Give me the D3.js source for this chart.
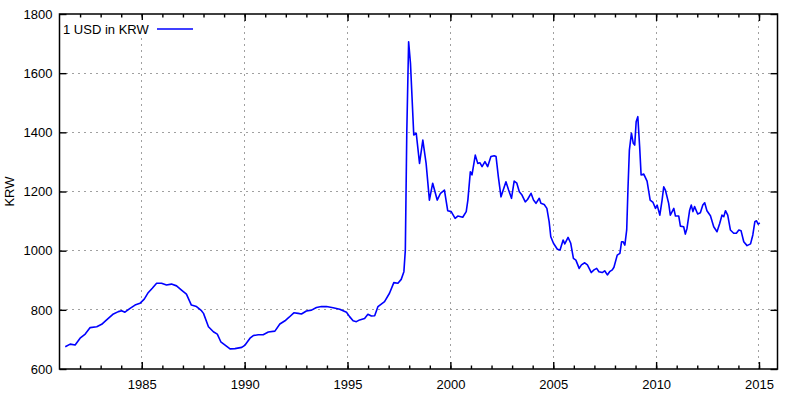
<!DOCTYPE html>
<html>
<head>
<meta charset="utf-8">
<script src="https://cdn.jsdelivr.net/npm/d3@7"></script>
<style>
body { margin: 0; background: #fff; }
text { font-family: "Liberation Sans", Arial, sans-serif; }
</style>
</head>
<body>
<script>
// monthly-ish readings of the USD/KRW rate
var years = [
  1981.28,1981.52,1981.76,1982.0,1982.25,1982.49,1982.81,1983.05,1983.29,1983.62,
  1983.86,1984.02,1984.18,1984.43,1984.67,1984.91,1985.12,1985.31,1985.51,1985.72,
  1985.96,1986.2,1986.44,1986.69,1986.93,1987.17,1987.41,1987.66,1987.9,1988.0,
  1988.24,1988.48,1988.67,1988.84,1989.05,1989.29,1989.53,1989.86,1990.02,1990.26,
  1990.42,1990.66,1990.9,1991.15,1991.47,1991.71,1991.96,1992.16,1992.39,1992.6,
  1992.76,1993.0,1993.25,1993.49,1993.73,1993.98,1994.3,1994.62,1994.95,1995.1,
  1995.27,1995.43,1995.59,1995.83,1995.99,1996.16,1996.32,1996.48,1996.8,1997.04,
  1997.25,1997.45,1997.61,1997.74,1997.81,1997.88,1997.97,1998.06,1998.22,1998.34,
  1998.5,1998.66,1998.82,1998.98,1999.14,1999.36,1999.52,1999.71,1999.87,2000.04,
  2000.23,2000.36,2000.6,2000.77,2000.85,2000.97,2001.05,2001.21,2001.33,2001.44,
  2001.54,2001.68,2001.81,2001.97,2002.13,2002.22,2002.33,2002.46,2002.7,2002.83,
  2002.97,2003.1,2003.23,2003.35,2003.48,2003.64,2003.75,2003.92,2004.04,2004.16,
  2004.32,2004.4,2004.56,2004.69,2004.8,2004.88,2005.01,2005.2,2005.33,2005.48,
  2005.56,2005.72,2005.85,2005.98,2006.1,2006.26,2006.37,2006.53,2006.66,2006.85,
  2006.98,2007.11,2007.22,2007.38,2007.5,2007.63,2007.74,2007.87,2007.95,2008.11,
  2008.24,2008.32,2008.4,2008.48,2008.57,2008.63,2008.7,2008.8,2008.89,2008.96,
  2009.03,2009.11,2009.2,2009.27,2009.4,2009.56,2009.71,2009.85,2009.97,2010.05,
  2010.18,2010.29,2010.37,2010.45,2010.61,2010.69,2010.86,2010.94,2011.1,2011.18,
  2011.34,2011.42,2011.5,2011.63,2011.71,2011.79,2011.87,2012.02,2012.15,2012.27,
  2012.36,2012.47,2012.64,2012.8,2012.96,2013.09,2013.2,2013.29,2013.37,2013.48,
  2013.61,2013.77,2013.9,2014.02,2014.13,2014.26,2014.42,2014.59,2014.7,2014.8,
  2014.88,2014.96,2015.04
];
var krw = [
  675,684,681,704,718,740,743,751,766,786,
  794,797,792,805,816,822,836,858,873,890,
  890,884,887,881,867,853,816,811,797,788,
  743,726,718,692,681,668,669,673,681,704,
  713,716,716,725,728,752,763,775,790,788,
  786,796,799,808,811,811,807,802,792,777,
  763,760,766,771,785,779,780,811,828,856,
  892,890,903,929,1002,1397,1706,1633,1391,1397,
  1295,1374,1295,1171,1228,1171,1194,1205,1135,1132,
  1109,1117,1113,1132,1171,1267,1256,1323,1295,1297,
  1284,1301,1284,1318,1321,1318,1250,1182,1233,1205,
  1177,1235,1228,1199,1188,1165,1173,1194,1171,1160,
  1177,1160,1156,1143,1098,1047,1025,1005,1002,1036,
  1023,1045,1025,974,968,940,952,959,952,926,
  935,940,929,926,932,918,929,935,944,985,
  991,1030,1030,1019,1070,1205,1340,1397,1363,1357,
  1436,1453,1351,1256,1259,1235,1171,1163,1143,1154,
  1120,1171,1216,1205,1160,1120,1143,1117,1117,1083,
  1081,1056,1075,1137,1154,1132,1149,1124,1128,1154,
  1162,1135,1118,1081,1064,1092,1120,1115,1135,1120,
  1070,1059,1059,1070,1067,1030,1017,1023,1053,1098,
  1101,1090,1094
];

var yTicks = [600, 800, 1000, 1200, 1400, 1600, 1800];
var xTicks = [1985, 1990, 1995, 2000, 2005, 2010, 2015];
var minorYears = d3.range(1982, 2016);
var seriesName = "1 USD in KRW";
var yLabel = "KRW";

var W = 785, H = 396;
var plotLeft = 59.5, plotTop = 14, plotRight = 777.5, plotBottom = 369;

var x = d3.scaleLinear()
    .domain([1981, 2015.9])
    .range([plotLeft, plotRight]);

var y = d3.scaleLinear()
    .domain([600, 1800])
    .range([plotBottom, plotTop]);

var svg = d3.select("body").append("svg")
    .attr("width", W)
    .attr("height", H);

// grid
var grid = svg.append("g").attr("class", "grid");
grid.selectAll("line.gx")
  .data(xTicks)
  .enter().append("line")
  .attr("x1", function(d) { return x(d); })
  .attr("x2", function(d) { return x(d); })
  .attr("y1", plotTop)
  .attr("y2", plotBottom);
grid.selectAll("line.gy")
  .data(yTicks.slice(1, -1))
  .enter().append("line")
  .attr("x1", plotLeft)
  .attr("x2", plotRight)
  .attr("y1", function(d) { return y(d); })
  .attr("y2", function(d) { return y(d); });
grid.selectAll("line")
  .attr("stroke", "#a0a0a0")
  .attr("stroke-width", 1)
  .attr("stroke-dasharray", "2,4")
  .attr("shape-rendering", "crispEdges");

// axes with inward ticks
function styleAxis(g) {
  g.select(".domain").remove();
  g.selectAll(".tick line").attr("stroke", "#000").attr("stroke-width", 1.4);
  g.selectAll(".tick text")
    .attr("fill", "#000")
    .style("font-size", "13px")
    .style("font-family", '"Liberation Sans", Arial, sans-serif');
}

svg.append("g")
  .attr("transform", "translate(0," + plotBottom + ")")
  .call(d3.axisBottom(x).tickValues(xTicks).tickFormat(d3.format("d"))
        .tickSizeInner(-7).tickSizeOuter(0).tickPadding(11))
  .call(styleAxis);

svg.append("g")
  .attr("transform", "translate(0," + plotBottom + ")")
  .call(d3.axisBottom(x).tickValues(minorYears).tickFormat("")
        .tickSizeInner(-3.5).tickSizeOuter(0))
  .call(styleAxis);

svg.append("g")
  .attr("transform", "translate(0," + plotTop + ")")
  .call(d3.axisTop(x).tickValues(xTicks).tickFormat("")
        .tickSizeInner(-7).tickSizeOuter(0))
  .call(styleAxis);

svg.append("g")
  .attr("transform", "translate(0," + plotTop + ")")
  .call(d3.axisTop(x).tickValues(minorYears).tickFormat("")
        .tickSizeInner(-3.5).tickSizeOuter(0))
  .call(styleAxis);

svg.append("g")
  .attr("transform", "translate(" + plotLeft + ",0)")
  .call(d3.axisLeft(y).tickValues(yTicks).tickFormat(d3.format("d"))
        .tickSizeInner(-7).tickSizeOuter(0).tickPadding(7))
  .call(styleAxis);

svg.append("g")
  .attr("transform", "translate(" + plotRight + ",0)")
  .call(d3.axisRight(y).tickValues(yTicks).tickFormat("")
        .tickSizeInner(-7).tickSizeOuter(0))
  .call(styleAxis);

// border
svg.append("rect")
  .attr("x", plotLeft)
  .attr("y", plotTop)
  .attr("width", plotRight - plotLeft)
  .attr("height", plotBottom - plotTop)
  .attr("fill", "none")
  .attr("stroke", "#000")
  .attr("stroke-width", 1.5);

// y label
svg.append("text")
  .attr("transform", "translate(14," + ((plotTop + plotBottom) / 2) + ") rotate(-90)")
  .style("text-anchor", "middle")
  .style("font-size", "13px")
  .text(yLabel);

// series
var line = d3.line()
    .x(function(d, i) { return x(years[i]); })
    .y(function(d) { return y(d); });

svg.append("path")
  .datum(krw)
  .attr("d", line)
  .attr("fill", "none")
  .attr("stroke", "#0000ff")
  .attr("stroke-width", 1.6)
  .attr("stroke-linejoin", "round");

// legend
var key = svg.append("g");
key.append("rect")
  .attr("x", plotLeft + 2)
  .attr("y", 20)
  .attr("width", 138)
  .attr("height", 18)
  .attr("fill", "#fff");
key.append("text")
  .attr("x", 63)
  .attr("y", 33.5)
  .style("font-size", "13px")
  .text(seriesName);
key.append("line")
  .attr("x1", 157)
  .attr("x2", 193)
  .attr("y1", 29)
  .attr("y2", 29)
  .attr("stroke", "#0000ff")
  .attr("stroke-width", 1.6);
</script>
</body>
</html>
